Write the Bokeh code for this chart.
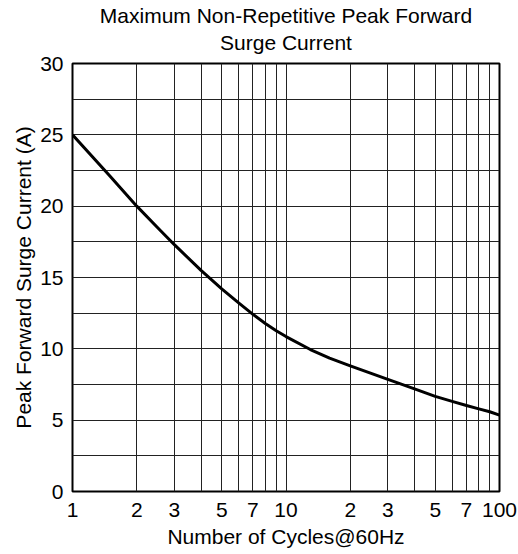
from bokeh.plotting import figure
from bokeh.models import FixedTicker, Title, LogAxis
from bokeh.embed import file_html
from bokeh.resources import INLINE

# Data
cycles = [1, 1.5, 2, 2.5, 3, 4, 5, 6, 7, 8, 9, 10, 13, 16, 20, 30, 40, 50, 60, 70, 80, 90, 100]
current = [25.0, 22.1, 20.0, 18.5, 17.3, 15.5, 14.2, 13.22, 12.42, 11.78, 11.27, 10.86,
           9.95, 9.35, 8.8, 7.86, 7.19, 6.67, 6.32, 6.03, 5.79, 5.59, 5.35]

x_tick_values = [1, 2, 3, 5, 7, 10, 20, 30, 50, 70, 100]
x_tick_labels = ["1", "2", "3", "5", "7", "10", "2", "3", "5", "7", "100"]
x_grid_values = [1, 2, 3, 4, 5, 6, 7, 8, 9, 10, 20, 30, 40, 50, 60, 70, 80, 90, 100]
y_tick_values = [0, 5, 10, 15, 20, 25, 30]
y_grid_values = [0, 2.5, 5, 7.5, 10, 12.5, 15, 17.5, 20, 22.5, 25, 27.5, 30]

title_lines = ["Maximum Non-Repetitive Peak Forward", "Surge Current"]
x_label = "Number of Cycles@60Hz"
y_label = "Peak Forward Surge Current (A)"

FONT = "Liberation Sans"

p = figure(width=518, height=554, x_axis_type="log", x_range=(1, 100), y_range=(0, 30),
           output_backend="svg", toolbar_location=None,
           min_border_left=72, min_border_right=19, min_border_top=0, min_border_bottom=63)

xax = p.below[0]
yax = p.left[0]

# Second title line: label of an empty axis above the frame (keeps both lines centred)
title_axis = LogAxis(ticker=FixedTicker(ticks=[]), axis_label=title_lines[1],
                     axis_line_color=None, major_tick_line_color=None,
                     minor_tick_line_color=None, major_tick_out=0, major_tick_in=0,
                     minor_tick_out=0, minor_tick_in=0, major_label_standoff=0,
                     major_label_text_font_size="0px",
                     axis_label_standoff=10, axis_label_text_font=FONT,
                     axis_label_text_font_size="21px", axis_label_text_font_style="normal",
                     axis_label_text_color="black")
p.add_layout(title_axis, "above")

# First title line
p.add_layout(Title(text=title_lines[0], align="center", text_font=FONT,
                   text_font_size="21px", text_font_style="normal",
                   text_color="black", standoff=2), "above")

p.line(cycles, current, line_color="black", line_width=3, line_join="round")

xax.ticker = FixedTicker(ticks=x_tick_values)
xax.major_label_overrides = {v: l for v, l in zip(x_tick_values, x_tick_labels)}
yax.ticker = FixedTicker(ticks=y_tick_values)

p.xgrid.ticker = FixedTicker(ticks=x_grid_values)
p.ygrid.ticker = FixedTicker(ticks=y_grid_values)
for g in (p.xgrid, p.ygrid):
    g.grid_line_color = "#222222"
    g.grid_line_width = 1
    g.grid_line_alpha = 1.0

for ax in (xax, yax):
    ax.axis_line_color = None
    ax.major_tick_line_color = None
    ax.minor_tick_line_color = None
    ax.major_tick_out = 0
    ax.major_tick_in = 0
    ax.minor_tick_out = 0
    ax.major_label_text_font = FONT
    ax.major_label_text_font_size = "21px"
    ax.major_label_text_color = "black"
    ax.axis_label_text_font = FONT
    ax.axis_label_text_font_size = "21px"
    ax.axis_label_text_font_style = "normal"
    ax.axis_label_text_color = "black"

xax.axis_label = x_label
yax.axis_label = y_label
xax.major_label_standoff = 11
xax.axis_label_standoff = 5
yax.major_label_standoff = 9
yax.axis_label_standoff = 2

p.outline_line_color = "black"
p.outline_line_width = 2
p.outline_line_alpha = 1.0
p.background_fill_color = "white"
p.border_fill_color = "white"

open("out.html", "w").write(file_html(p, INLINE))
